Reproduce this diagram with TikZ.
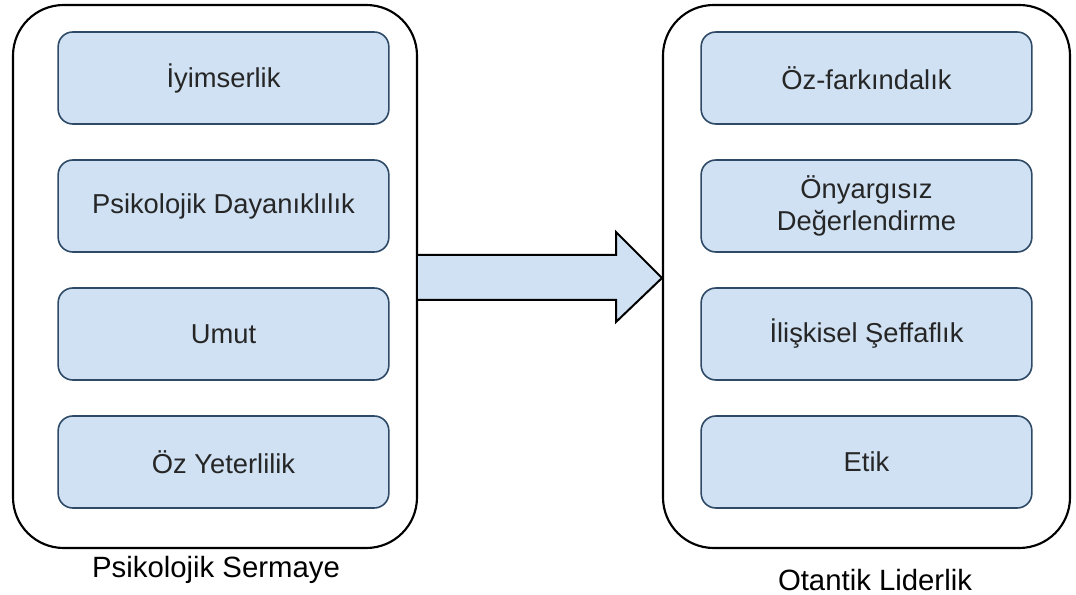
\documentclass[tikz,border=0pt]{standalone}
\usepackage{fontspec}
\setmainfont{Liberation Sans}
\begin{document}
\begin{tikzpicture}[x=0.75pt,y=-0.75pt,
  frame/.style={draw=black,line width=1.6pt,rounded corners=38pt,fill=white},
  item/.style={draw=itemline,line width=1.2pt,rounded corners=11pt,fill=itemfill,
    minimum width=248pt,minimum height=69pt,align=center,text=textgrey,
    font=\fontsize{20.5}{24}\selectfont,inner sep=0pt},
  caption/.style={text=black,font=\fontsize{22}{26}\selectfont,inner sep=0pt}]
\definecolor{itemfill}{HTML}{CFE1F3}
\definecolor{itemline}{HTML}{2F4A66}
\definecolor{textgrey}{HTML}{262626}
\useasboundingbox (0,0) rectangle (1076,595);

% outer frames
\draw[frame] (13,5) rectangle (417,548);
\draw[frame] (663,5) rectangle (1070,548);

% left column
\node[item] (a1) at (223.5,78) {İyimserlik};
\node[item] (a2) at (223.5,206) {Psikolojik Dayanıklılık};
\node[item] (a3) at (223.5,334) {Umut};
\node[item] (a4) at (223.5,462) {Öz Yeterlilik};

% right column
\node[item] (b1) at (866.5,78) {Öz-farkındalık};
\node[item] (b2) at (866.5,206) {Önyargısız\\Değerlendirme};
\node[item] (b3) at (866.5,334) {İlişkisel Şeffaflık};
\node[item] (b4) at (866.5,462) {Etik};

% captions
\node[caption] (c1) at (216,570) {Psikolojik Sermaye};
\node[caption] (c2) at (875,580) {Otantik Liderlik};

% block arrow between the frames
\draw[line width=1.5pt,line join=miter,fill=itemfill]
  (418,255) -- (616,255) -- (616,232) -- (662,278) -- (616,322) -- (616,300) -- (418,300);
\end{tikzpicture}
\end{document}
